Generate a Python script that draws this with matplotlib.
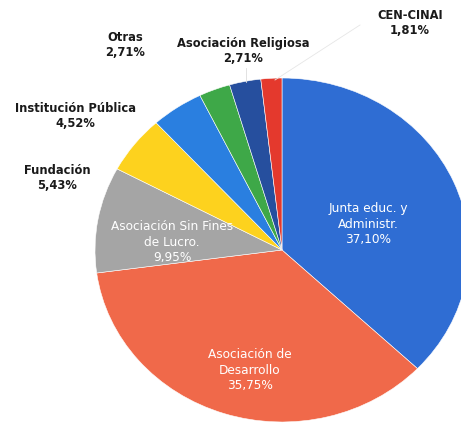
import matplotlib.pyplot as plt

# datos
categorias = ['Junta educ. y\nAdministr.', 'Asociación de\nDesarrollo', 'Asociación Sin Fines\nde Lucro.',
              'Fundación', 'Institución Pública', 'Otras', 'Asociación Religiosa', 'CEN-CINAI']
valores = [37.10, 35.75, 9.95, 5.43, 4.52, 2.71, 2.71, 1.81]
colores = ['#2f6dd3', '#f0694a', '#a5a5a5', '#fdd21e', '#2a7fe0', '#3ea848', '#264f9e', '#e4392d']

W, H = 461, 423
fig = plt.figure(figsize=(W / 100, H / 100), dpi=100)
# pie elíptico: centro (282, 250), radios 187 x 172 px
ax = fig.add_axes([95 / W, (H - 422) / H, 374 / W, 344 / H])
wedges, _ = ax.pie(valores, colors=colores, startangle=90, counterclock=False,
                   wedgeprops=dict(edgecolor='white', linewidth=0.4))
for w in wedges:
    w.set_clip_on(False)
ax.set_xlim(-1, 1)
ax.set_ylim(-1, 1)
ax.set_aspect('auto')
ax.axis('off')


def pct(v):
    return ('%.2f' % v).replace('.', ',') + '%'


def px(x, y):
    return x / W, 1 - y / H


# etiquetas internas (blancas)
internas = {0: (368, 224), 1: (250, 370), 2: (172, 242)}
for i, (x, y) in internas.items():
    fig.text(*px(x, y), categorias[i] + '\n' + pct(valores[i]), color='white',
             ha='center', va='center', fontsize=8.7, linespacing=1.25)

# etiquetas externas (negritas)
externas = {3: (57, 178), 4: (75, 116), 5: (125, 45), 6: (243, 51), 7: (410, 23)}
for i, (x, y) in externas.items():
    fig.text(*px(x, y), categorias[i] + '\n' + pct(valores[i]), color='#1a1a1a',
             ha='center', va='center', fontsize=8.3, fontweight='heavy', linespacing=1.2)

# líneas guía tenues
fig.add_artist(plt.Line2D([246 / W, 246 / W], [1 - 68 / H, 1 - 82 / H],
                          color='#dddddd', linewidth=0.6))
fig.add_artist(plt.Line2D([275 / W, 360 / W], [1 - 80 / H, 1 - 25 / H],
                          color='#e6e6e6', linewidth=0.6))

fig.savefig('out.png', dpi=100)
